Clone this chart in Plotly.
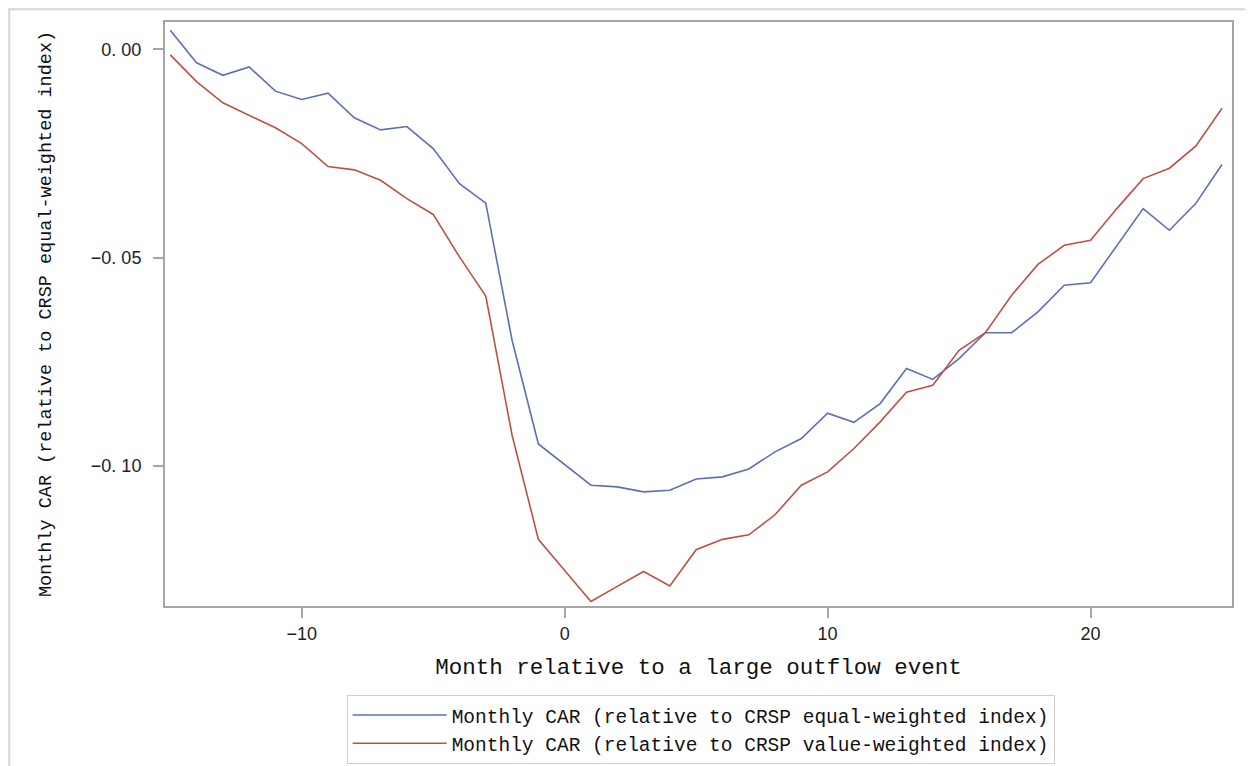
import plotly.graph_objects as go

months = list(range(-15, 26))

car_equal = [0.0046, -0.0032, -0.0062, -0.0042, -0.0100, -0.0120, -0.0105, -0.0164,
             -0.0193, -0.0185, -0.0238, -0.0322, -0.0369, -0.0698, -0.0947, -0.0996,
             -0.1046, -0.1050, -0.1062, -0.1058, -0.1031, -0.1026, -0.1007, -0.0966,
             -0.0934, -0.0873, -0.0895, -0.0850, -0.0766, -0.0792, -0.0742, -0.0680,
             -0.0680, -0.0630, -0.0566, -0.0560, -0.0470, -0.0382, -0.0434, -0.0370,
             -0.0276]

car_value = [-0.0013, -0.0077, -0.0128, -0.0158, -0.0188, -0.0226, -0.0281, -0.0289,
             -0.0314, -0.0358, -0.0396, -0.0498, -0.0592, -0.0926, -0.1176, -0.1251,
             -0.1325, -0.1289, -0.1253, -0.1288, -0.1201, -0.1176, -0.1165, -0.1117,
             -0.1046, -0.1014, -0.0958, -0.0894, -0.0823, -0.0806, -0.0722, -0.0680,
             -0.0590, -0.0516, -0.0470, -0.0458, -0.0382, -0.0310, -0.0285, -0.0232,
             -0.0141]

series_names = ["Monthly CAR (relative to CRSP equal-weighted index)",
                "Monthly CAR (relative to CRSP value-weighted index)"]

x_tickvals = [-10, 0, 10, 20]
x_ticktext = ["\u221210", "0", "10", "20"]
y_tickvals = [0.0, -0.05, -0.10]
y_ticktext = ["0. 00", "\u22120. 05", "\u22120. 10"]

MONO = "Liberation Mono, DejaVu Sans Mono, monospace"
SANS = "Liberation Sans, Arial, sans-serif"
AXC = "#a3a7ab"

fig = go.Figure()
fig.add_trace(go.Scatter(x=months, y=car_equal, mode="lines", name=series_names[0],
                         line=dict(color="#5f6fb3", width=1.6)))
fig.add_trace(go.Scatter(x=months, y=car_value, mode="lines", name=series_names[1],
                         line=dict(color="#bd5047", width=1.6)))

fig.update_layout(
    width=1245, height=758,
    margin=dict(l=157, r=21, t=14, b=160, autoexpand=False),
    paper_bgcolor="white", plot_bgcolor="white",
    showlegend=True,
    legend=dict(orientation="v", x=0.502, xanchor="center", y=-0.152, yanchor="top",
                bordercolor="#cfcfcf", borderwidth=1, bgcolor="white",
                font=dict(family=MONO, size=19.5, color="#111111"),
                tracegroupgap=0, itemwidth=94),
    xaxis=dict(range=[-15.2, 25.38], tickvals=x_tickvals, ticktext=x_ticktext,
               automargin=False,
               showgrid=False, zeroline=False, showline=True, linecolor=AXC, linewidth=2,
               mirror=True, ticks="outside", ticklen=10, tickcolor=AXC, tickwidth=1.5,
               tickfont=dict(family=SANS, size=18, color="#222222"),
               ticklabelstandoff=0,
               title=dict(text="Month relative to a large outflow event",
                          font=dict(family=MONO, size=22.5, color="#111111"), standoff=16)),
    yaxis=dict(range=[-0.1336, 0.0066], tickvals=y_tickvals, ticktext=y_ticktext,
               automargin=False,
               showgrid=False, zeroline=False, showline=True, linecolor=AXC, linewidth=2,
               mirror=True, ticks="outside", ticklen=10, tickcolor=AXC, tickwidth=1.5,
               tickfont=dict(family=SANS, size=18, color="#222222"),
               ticklabelstandoff=8,
               title=dict(text="Monthly CAR (relative to CRSP equal-weighted index)",
                          font=dict(family=MONO, size=18.5, color="#111111"), standoff=34)),
)

fig.add_shape(type="rect", xref="paper", yref="paper",
              x0=-0.146, x1=1.0187, y0=-0.35, y1=1.022,
              line=dict(color="#d6d6d6", width=2), fillcolor="rgba(0,0,0,0)", layer="below")

fig.write_html("out.html")
